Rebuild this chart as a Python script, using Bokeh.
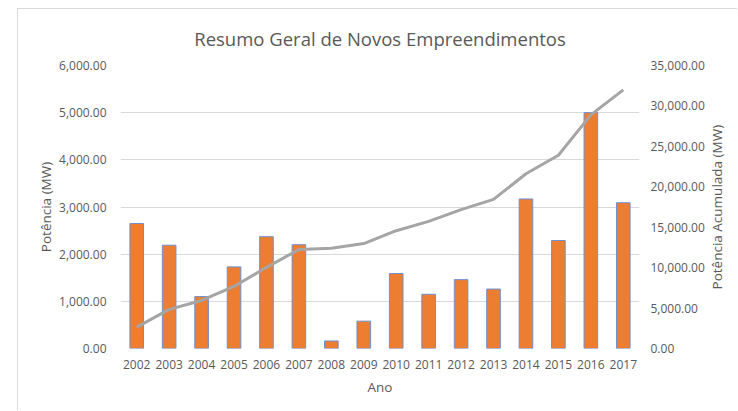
import math
from bokeh.plotting import figure
from bokeh.models import (Range1d, LinearAxis, FixedTicker, NumeralTickFormatter,
                          ColumnDataSource, FactorRange)
from bokeh.embed import file_html
from bokeh.resources import INLINE

# ---- data ----
anos = ["2002", "2003", "2004", "2005", "2006", "2007", "2008", "2009",
        "2010", "2011", "2012", "2013", "2014", "2015", "2016", "2017"]
potencia = [2650, 2190, 1100, 1730, 2370, 2200, 160, 580,
            1590, 1150, 1460, 1260, 3170, 2290, 5000, 3090]
acumulada = [2650, 4840, 5940, 7670, 10040, 12240, 12400, 12980,
             14570, 15720, 17180, 18440, 21610, 23900, 28900, 31990]
ticks_esq = [0, 1000, 2000, 3000, 4000, 5000, 6000]
ticks_dir = [0, 5000, 10000, 15000, 20000, 25000, 30000, 35000]

titulo = "Resumo Geral de Novos Empreendimentos"
rot_esq = "Potência (MW)"
rot_dir = "Potência Acumulada (MW)"
rot_x = "Ano"

FONT = "Open Sans"
GRAY_TXT = "#595959"
GRID = "#D9D9D9"

src = ColumnDataSource(dict(ano=anos, pot=potencia, acum=acumulada))

p = figure(width=720, height=402, x_range=FactorRange(factors=anos, range_padding=0),
           y_range=Range1d(0, 6000), output_backend="svg", toolbar_location=None,
           min_border_left=102, min_border_right=96, min_border_top=56,
           min_border_bottom=63, title=titulo)
p.margin = (8, 0, 0, 17)
p.styles = {"border-left": "1px solid #D9D9D9", "border-top": "1px solid #D9D9D9"}

p.extra_y_ranges = {"acum": Range1d(0, 35000)}

p.vbar(x="ano", top="pot", width=0.42, source=src, fill_color="#ED7D31",
       line_color="#6F8FD0", line_width=1)
p.line(x="ano", y="acum", source=src, y_range_name="acum", line_color="#A5A5A5",
       line_width=3)

p.outline_line_color = None
p.xgrid.grid_line_color = None
p.ygrid.grid_line_color = GRID
p.ygrid.ticker = FixedTicker(ticks=ticks_esq)

p.title.text_font = FONT
p.title.text_font_size = "18.5px"
p.title.text_font_style = "normal"
p.title.text_color = GRAY_TXT
p.title.align = "center"
p.title.standoff = 29

def style_axis(ax):
    ax.axis_line_color = None
    ax.major_tick_line_color = None
    ax.minor_tick_line_color = None
    ax.major_tick_out = 0
    ax.major_tick_in = 0
    ax.minor_tick_out = 0
    ax.minor_tick_in = 0
    ax.major_label_text_font = FONT
    ax.major_label_text_font_size = "12px"
    ax.major_label_text_color = GRAY_TXT
    ax.axis_label_text_font = FONT
    ax.axis_label_text_font_size = "13.5px"
    ax.axis_label_text_font_style = "normal"
    ax.axis_label_text_color = GRAY_TXT

ya = p.yaxis[0]
style_axis(ya)
ya.ticker = FixedTicker(ticks=ticks_esq)
ya.formatter = NumeralTickFormatter(format="0,0.00")
ya.axis_label = rot_esq
ya.major_label_standoff = 14
ya.axis_label_standoff = 1

xa = p.xaxis[0]
style_axis(xa)
xa.axis_label = rot_x
xa.major_label_standoff = 11
xa.axis_label_standoff = 6

ra = LinearAxis(y_range_name="acum", ticker=FixedTicker(ticks=ticks_dir),
                formatter=NumeralTickFormatter(format="0,0.00"))
style_axis(ra)
ra.major_label_standoff = 11
p.add_layout(ra, "right")

# right axis title, reading bottom-to-top as in the reference:
# a second right axis whose single tick label is the title text
# (the label starts at the tick, so the tick sits below the centre)
pos = 7300
ra2 = LinearAxis(y_range_name="acum", ticker=FixedTicker(ticks=[pos]),
                 major_label_overrides={pos: rot_dir})
style_axis(ra2)
ra2.major_label_text_font_size = "13.5px"
ra2.major_label_orientation = math.pi / 2
ra2.major_label_standoff = 10
p.add_layout(ra2, "right")

open("out.html", "w").write(file_html(p, INLINE))
